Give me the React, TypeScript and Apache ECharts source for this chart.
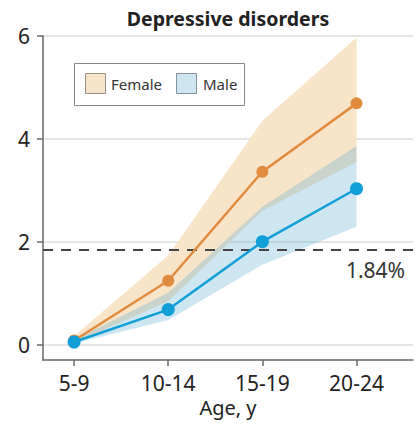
import React, { useEffect, useRef } from "react";
import * as echarts from "echarts";

const categories = ["5-9", "10-14", "15-19", "20-24"];
const femaleMean = [0.08, 1.24, 3.36, 4.69];
const femaleLow = [0.03, 0.84, 2.6, 3.55];
const femaleHigh = [0.16, 1.73, 4.35, 5.97];
const maleMean = [0.05, 0.68, 2.0, 3.03];
const maleLow = [0.02, 0.48, 1.55, 2.29];
const maleHigh = [0.09, 1.01, 2.68, 3.86];
const yTicks = [0, 2, 4, 6];
const referenceValue = 1.84;

const FONT = "'Noto Sans', sans-serif";
const ORANGE = "#e18b3e";
const BLUE = "#109fd6";

export default function App() {
  const ref = useRef<HTMLDivElement>(null);
  useEffect(() => {
    document.body.style.margin = "0";
    if (!ref.current) return;
    const chart = echarts.init(ref.current, undefined, { renderer: "svg" });
    const xs = categories.map((_, i) => i);
    const pts = (arr: number[]) => arr.map((v, i) => [xs[i], v]);
    const band = (lo: number[], hi: number[], fill: string, z: number) => ({
      type: "custom",
      silent: true,
      z,
      data: xs.map((x, i) => [x, lo[i], hi[i]]),
      encode: { x: 0, y: [1, 2] },
      renderItem: (params: any, api: any) => {
        if (params.dataIndex !== 0) return null;
        const upper = xs.map((x, i) => api.coord([x, hi[i]]));
        const lower = xs.map((x, i) => api.coord([x, lo[i]])).reverse();
        return {
          type: "polygon",
          shape: { points: upper.concat(lower) },
          style: { fill },
        };
      },
    });
    chart.setOption({
      animation: false,
      grid: { left: 43, right: 6, top: 36, bottom: 65 },
      xAxis: {
        type: "value",
        min: -0.33,
        max: 3.6,
        name: "Age, y",
        nameLocation: "middle",
        nameGap: 37,
        nameTextStyle: { fontFamily: FONT, fontSize: 20, color: "#222" },
        axisLine: { show: true, onZero: false, lineStyle: { color: "#666", width: 1.5 } },
        axisTick: { show: true, length: 6, customValues: xs, lineStyle: { color: "#666", width: 1.5 } },
        axisLabel: {
          customValues: xs,
          margin: 12,
          fontFamily: FONT,
          fontSize: 21,
          color: "#222",
          formatter: (v: number) => categories[Math.round(v)] ?? "",
        },
        splitLine: { show: false },
      },
      yAxis: {
        type: "value",
        min: -0.3,
        max: 6,
        axisLine: { show: true, onZero: false, lineStyle: { color: "#666", width: 1.5 } },
        axisTick: { show: true, length: 6, customValues: yTicks, lineStyle: { color: "#666", width: 1.5 } },
        axisLabel: { customValues: yTicks, margin: 13, fontFamily: FONT, fontSize: 21, color: "#222" },
        splitLine: { show: true, lineStyle: { color: "#dcdcdc", width: 1.5 } },
      },
      series: [
        band(femaleLow, femaleHigh, "#f8e4c9", 1),
        band(maleLow, maleHigh, "rgba(88,172,208,0.3)", 2),
        {
          type: "line", name: "Female", data: pts(femaleMean), symbol: "circle", symbolSize: 12,
          lineStyle: { color: ORANGE, width: 2.5 }, itemStyle: { color: ORANGE }, z: 5,
        },
        {
          type: "line", name: "Male", data: pts(maleMean), symbol: "circle", symbolSize: 13,
          lineStyle: { color: BLUE, width: 2.5 }, itemStyle: { color: BLUE }, z: 6,
          markLine: {
            silent: true, symbol: "none",
            lineStyle: { color: "#444", type: [10, 8], width: 2 },
            label: {
              show: true, position: "insideEndBottom", formatter: referenceValue.toFixed(2) + "%",
              fontFamily: FONT, fontSize: 21, color: "#333", distance: [8, 10],
            },
            data: [{ yAxis: referenceValue }],
          },
        },
      ],
      graphic: [
        {
          type: "text", x: 228, y: 18,
          style: { text: "Depressive disorders", font: `bold 19.5px ${FONT}`, fill: "#222", align: "center", verticalAlign: "middle" },
        },
        {
          type: "rect", shape: { x: 74.5, y: 63.5, width: 170, height: 42 },
          style: { fill: "#fff", stroke: "#888", lineWidth: 1 }, z: 10,
        },
        {
          type: "rect", shape: { x: 85.5, y: 73.5, width: 20, height: 20 },
          style: { fill: "#f8e4c9", stroke: "#9a8f84", lineWidth: 1 }, z: 11,
        },
        {
          type: "text", x: 111, y: 84, z: 11,
          style: { text: "Female", font: `15px ${FONT}`, fill: "#333", verticalAlign: "middle" },
        },
        {
          type: "rect", shape: { x: 176.5, y: 73.5, width: 20, height: 20 },
          style: { fill: "#cde6f1", stroke: "#84939a", lineWidth: 1 }, z: 11,
        },
        {
          type: "text", x: 203, y: 84, z: 11,
          style: { text: "Male", font: `15px ${FONT}`, fill: "#333", verticalAlign: "middle" },
        },
      ],
    });
    return () => chart.dispose();
  }, []);
  return <div ref={ref} style={{ width: 419, height: 425 }} />;
}
